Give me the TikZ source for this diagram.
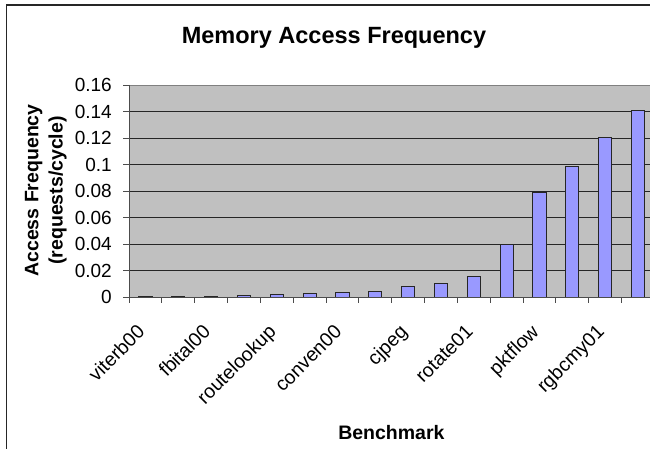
\documentclass[tikz,border=0pt]{standalone}
\usepackage{fontspec}
\setmainfont{Liberation Sans}
\definecolor{plotgray}{HTML}{C0C0C0}
\definecolor{barblue}{HTML}{9999FF}
\definecolor{edgegray}{HTML}{808080}
\tikzset{
  chartframe/.style={line width=1.5pt, black!85},
  gridline/.style={line width=0.8pt, black!85},
  axisline/.style={line width=0.9pt, black!70},
  tickmark/.style={line width=0.9pt, black!70},
  barbox/.style={fill=barblue, draw=black!85, line width=0.9pt},
  ticklabel/.style={anchor=east, inner sep=0pt, font=\fontsize{19}{22}\selectfont},
  catlabel/.style={anchor=base east, inner sep=0pt, rotate=45, font=\fontsize{19.5}{22}\selectfont},
  axistitle/.style={anchor=base, inner sep=0pt, font=\fontsize{19.5}{22}\selectfont\bfseries},
  charttitle/.style={anchor=base, inner sep=0pt, font=\fontsize{23.5}{27}\selectfont\bfseries}
}
\begin{document}
\begin{tikzpicture}[x=1pt, y=-1pt]
\useasboundingbox (0,0) rectangle (650,449);
% geometry of the plot area (pixels, y downwards)
\def\xl{129}     % left axis
\def\xr{656}     % right edge of plot area
\def\yt{85}      % top of plot area (0.16)
\def\yb{297.3}   % zero line
\def\cw{32.83}   % width of one category
\def\bw{6.6}     % half width of a bar

% chart frame
\draw[chartframe] (6.5,470) -- (6.5,5) -- (670,5);

% plot area
\fill[plotgray] (\xl,\yt) rectangle (\xr,\yb);
\draw[edgegray, line width=0.9pt] (\xl,\yt) -- (\xr,\yt);

% horizontal gridlines
\foreach \k in {1,...,7} {
  \pgfmathsetmacro\gy{\yb-(\yb-\yt)*\k/8}
  \draw[gridline] (\xl,\gy) -- (\xr,\gy);
}

% bars
\foreach \val [count=\i] in {0.0005,0.001,0.001,0.0016,0.0025,0.003,0.0038,0.0042,0.0083,0.0106,0.0156,0.0402,0.0792,0.0986,0.1205,0.1408} {
  \pgfmathsetmacro\cx{\xl+(\i-0.5)*\cw}
  \pgfmathsetmacro\ty{\yb-(\yb-\yt)*\val/0.16}
  \draw[barbox] (\cx-\bw,\yb) rectangle (\cx+\bw,\ty);
}

% axes and ticks
\draw[axisline] (\xl,\yt) -- (\xl,\yb) -- (\xr,\yb);
\foreach \k in {0,...,8} {
  \pgfmathsetmacro\gy{\yb-(\yb-\yt)*\k/8}
  \draw[tickmark] (\xl-6,\gy) -- (\xl,\gy);
}
\foreach \k in {0,...,16} {
  \pgfmathsetmacro\tx{\xl+\k*\cw}
  \draw[tickmark] (\tx,\yb) -- (\tx,\yb+6);
}

% value labels
\foreach \lab [count=\k from 0] in {0,0.02,0.04,0.06,0.08,0.1,0.12,0.14,0.16} {
  \pgfmathsetmacro\gy{\yb-(\yb-\yt)*\k/8}
  \node[ticklabel] (yl\k) at (112,\gy) {\lab};
}

% category labels (every second benchmark)
\foreach \name/\i in {viterb00/1,fbital00/3,routelookup/5,conven00/7,cjpeg/9,rotate01/11,pktflow/13,rgbcmy01/15} {
  \pgfmathsetmacro\cx{\xl+(\i-0.5)*\cw}
  \node[catlabel] (cat\i) at (\cx+0.5,333) {\name};
}

% titles
\node[charttitle] (title) at (334,43.3) {Memory Access Frequency};
\node[axistitle, rotate=90] (ytitleA) at (38.3,190.5) {Access Frequency};
\node[axistitle, rotate=90] (ytitleB) at (62.5,190.5) {(requests/cycle)};
\node[axistitle] (xtitle) at (391.4,439.5) {Benchmark};
\end{tikzpicture}
\end{document}
